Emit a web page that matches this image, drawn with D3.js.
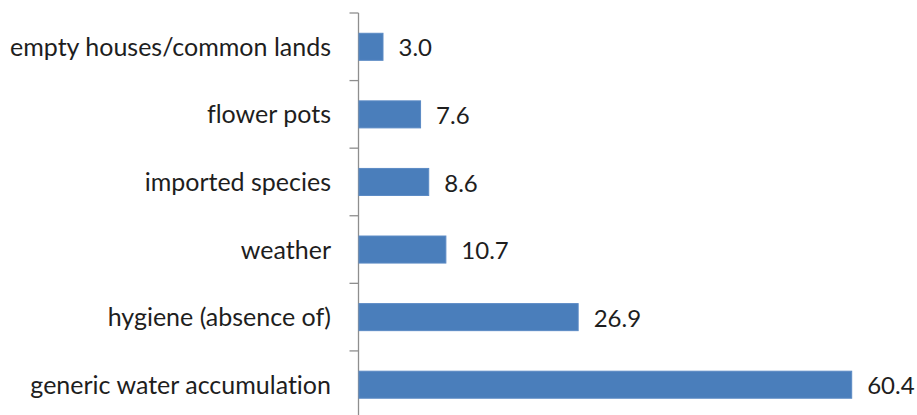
<!DOCTYPE html>
<html>
<head>
<meta charset="utf-8">
<script src="https://cdn.jsdelivr.net/npm/d3@7"></script>
<style>
  html, body { margin: 0; padding: 0; background: #fff; }
  svg { display: block; }
  text { font-variant-ligatures: none; font-feature-settings: "liga" 0, "clig" 0; }
</style>
</head>
<body>
<svg id="chart" width="917" height="415"></svg>
<script>
// Breeding-site categories, top to bottom, with their percentage values
const categories = [
  "empty houses/common lands",
  "flower pots",
  "imported species",
  "weather",
  "hygiene (absence of)",
  "generic water accumulation"
];
const values = [3.0, 7.6, 8.6, 10.7, 26.9, 60.4];
const valueLabels = ["3.0", "7.6", "8.6", "10.7", "26.9", "60.4"];

const svg = d3.select("#chart");
const font = "Lato, 'Open Sans', sans-serif";

const axisX = 358.5;
const plotTop = 13;
const plotBottom = 418.5;

const x = d3.scaleLinear().domain([0, 60.4]).range([axisX, 851.7]);
const y = d3.scaleBand().domain(categories).range([plotTop, plotBottom])
  .paddingInner(0.6).paddingOuter(0.3);

// vertical category axis with outward ticks at band boundaries
const axis = svg.append("g").attr("stroke", "#8e8e8e").attr("stroke-width", 1.3);
axis.append("line").attr("x1", axisX).attr("x2", axisX).attr("y1", plotTop).attr("y2", 415);
d3.range(categories.length + 1).forEach(i => {
  const yy = plotTop + i * y.step();
  axis.append("line").attr("x1", axisX - 9).attr("x2", axisX).attr("y1", yy).attr("y2", yy);
});

const rows = categories.map((c, i) => ({ c, v: values[i], label: valueLabels[i] }));
const mid = d => y(d.c) + y.bandwidth() / 2;

// bars
svg.append("g").selectAll("rect")
  .data(rows)
  .join("rect")
  .attr("x", axisX + 0.5)
  .attr("y", d => y(d.c))
  .attr("width", d => x(d.v) - axisX - 0.5)
  .attr("height", y.bandwidth())
  .attr("fill", "#4a7ebb")
  .attr("stroke", "#5b8ac4")
  .attr("stroke-width", 1);

// category labels
svg.append("g").selectAll("text")
  .data(rows)
  .join("text")
  .attr("x", 331)
  .attr("y", mid)
  .attr("dy", "0.36em")
  .attr("text-anchor", "end")
  .attr("font-family", font)
  .attr("font-size", 25)
  .attr("fill", "#1e1e1e")
  .text(d => d.c);

// value labels
svg.append("g").selectAll("text")
  .data(rows)
  .join("text")
  .attr("x", d => x(d.v) + 15.5)
  .attr("y", mid)
  .attr("dy", "0.4em")
  .attr("font-family", font)
  .attr("font-size", 24)
  .attr("fill", "#1e1e1e")
  .text(d => d.label);
</script>
</body>
</html>
